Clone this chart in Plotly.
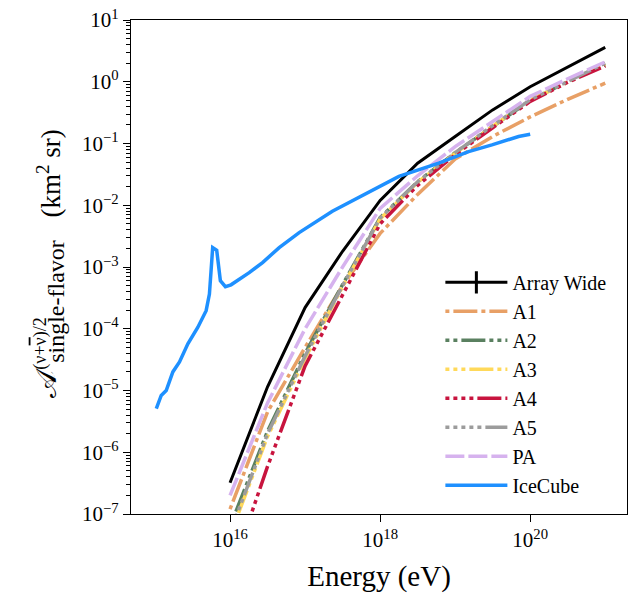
import plotly.graph_objects as go

# Energy grid shared by the array/station effective-area curves (eV)
energy_ev = [1e16, 3.16e16, 1e17, 3.16e17, 1e18, 3.16e18, 1e19, 3.16e19, 1e20, 3.16e20, 1e21]

# Single-flavour effective areas (km^2 sr)
array_wide = [3.2e-7, 1.15e-5, 2.2e-4, 1.8e-3, 1.2e-2, 4.8e-2, 0.13, 0.35, 0.83, 1.74, 3.6]
a1 = [1.2e-7, 4.5e-6, 5.0e-5, 5.0e-4, 3.5e-3, 1.5e-2, 5.6e-2, 0.13, 0.27, 0.52, 0.95]
a2 = [6.3e-8, 2.2e-6, 4.0e-5, 5.2e-4, 6.3e-3, 2.4e-2, 7.1e-2, 0.19, 0.50, 1.0, 1.9]
a3 = [4.5e-8, 1.8e-6, 3.3e-5, 4.8e-4, 6.0e-3, 2.35e-2, 6.9e-2, 0.19, 0.50, 1.0, 1.95]
a4 = [1.0e-8, 5.9e-7, 2.5e-5, 3.5e-4, 5.0e-3, 2.1e-2, 6.6e-2, 0.18, 0.48, 0.98, 1.8]
a5 = [5.0e-8, 2.0e-6, 3.6e-5, 5.0e-4, 6.2e-3, 2.4e-2, 7.1e-2, 0.195, 0.51, 1.02, 2.0]
pa = [2.0e-7, 6.3e-6, 1.0e-4, 1.0e-3, 8.9e-3, 3.0e-2, 8.9e-2, 0.23, 0.58, 1.12, 2.1]

# IceCube effective area, including the Glashow resonance bump
icecube_energy = [1.04e15, 1.21e15, 1.41e15, 1.73e15, 2.12e15, 2.74e15, 3.71e15, 4.80e15,
                  5.31e15, 5.60e15, 5.87e15, 6.64e15, 7.43e15, 8.67e15, 1.03e16, 1.80e16,
                  2.71e16, 4.52e16, 8.34e16, 2.31e17, 9.64e17, 1.78e18, 6.04e18, 1.51e19,
                  3.09e19, 7.0e19, 1.0e20]
icecube_area = [5.1e-6, 8.3e-6, 1.0e-5, 2.0e-5, 2.9e-5, 5.7e-5, 1.05e-4, 1.96e-4,
                3.65e-4, 8.7e-4, 2.06e-3, 1.87e-3, 6.0e-4, 4.8e-4, 5.15e-4, 8.1e-4,
                1.18e-3, 2.06e-3, 3.6e-3, 8.0e-3, 2.03e-2, 2.94e-2, 4.8e-2, 7.4e-2,
                9.5e-2, 0.13, 0.141]

x_tick_vals = [1e16, 1e18, 1e20]
x_tick_text = ["10<sup>16</sup>", "10<sup>18</sup>", "10<sup>20</sup>"]
y_tick_vals = [1e-7, 1e-6, 1e-5, 1e-4, 1e-3, 1e-2, 1e-1, 1e0, 1e1]
y_tick_text = ["10<sup>\u22127</sup>", "10<sup>\u22126</sup>", "10<sup>\u22125</sup>",
               "10<sup>\u22124</sup>", "10<sup>\u22123</sup>", "10<sup>\u22122</sup>",
               "10<sup>\u22121</sup>", "10<sup>0</sup>", "10<sup>1</sup>"]

FONT = "Liberation Serif"


def dots_then_dash(n_dots, dot=4, gap=4, dash=24):
    parts = []
    for _ in range(n_dots):
        parts += [dot, gap]
    parts += [dash, gap]
    return ",".join(f"{p}px" for p in parts)


stations = [
    ("A1", a1, "#E8A066", dots_then_dash(1)),
    ("A2", a2, "#5A8060", dots_then_dash(2)),
    ("A3", a3, "#FFD95A", dots_then_dash(3)),
    ("A4", a4, "#C8143E", dots_then_dash(4)),
    ("A5", a5, "#9C9C9C", dots_then_dash(5)),
    ("PA", pa, "#D6B2EE", "19px,4px"),
]

fig = go.Figure()

fig.add_trace(go.Scatter(
    x=energy_ev, y=array_wide, mode="lines", name="Array Wide",
    line=dict(color="black", width=3), showlegend=False,
))
# legend entry drawn with the error-bar style marker
fig.add_trace(go.Scatter(
    x=[None], y=[None], mode="lines+markers", name="Array Wide",
    line=dict(color="black", width=3),
    marker=dict(symbol="line-ns", size=16, line=dict(color="black", width=3)),
    legendrank=1,
))
for i, (name, vals, color, dash) in enumerate(stations):
    fig.add_trace(go.Scatter(
        x=energy_ev, y=vals, mode="lines", name=name,
        line=dict(color=color, width=3.5, dash=dash),
        legendrank=2 + i,
    ))
fig.add_trace(go.Scatter(
    x=icecube_energy, y=icecube_area, mode="lines", name="IceCube",
    line=dict(color="#1E90FF", width=3.5), legendrank=20,
))

axis_common = dict(
    type="log", showline=True, mirror=True, linecolor="black", linewidth=1.3,
    ticks="outside", ticklen=7, tickwidth=1.3, tickcolor="black",
    showgrid=False, zeroline=False,
    tickfont=dict(family=FONT, size=21, color="black"),
)

fig.update_xaxes(
    **axis_common, range=[14.68, 21.29],
    tickmode="array", tickvals=x_tick_vals, ticktext=x_tick_text,
    title=dict(text="Energy (eV)", font=dict(family=FONT, size=29, color="black"), standoff=14),
)
fig.update_yaxes(
    **axis_common, range=[-7, 1],
    tickmode="array", tickvals=y_tick_vals, ticktext=y_tick_text,
    minor=dict(ticks="outside", ticklen=3.5, tickwidth=1, tickcolor="black",
               dtick="D1", showgrid=False),
)

# y-axis label built from stacked pieces (superscript above subscript)
L, R, T, B = 131, 628, 18, 514.3


def px_to_paper(px, py):
    return (px - L) / (R - L), (B - py) / (B - T)


label_parts = [
    ("(km<sup>2</sup> sr)", 49, 172, 27),
    ("\U0001D49C", 46, 383, 29),
    ("(\u03BD+<span style='text-decoration:overline'>\u03BD</span>)/2", 40, 343, 18),
    ("single-flavor", 56, 301, 24),
]
for text, px, py, size in label_parts:
    ax, ay = px_to_paper(px, py)
    fig.add_annotation(
        text=text, x=ax, y=ay, xref="paper", yref="paper", showarrow=False,
        textangle=-90, xanchor="center", yanchor="middle",
        font=dict(family=FONT, size=size, color="black"),
    )

fig.update_layout(
    width=634, height=597,
    margin=dict(l=131, r=6, t=18, b=83),
    paper_bgcolor="white", plot_bgcolor="white",
    showlegend=True,
    legend=dict(
        x=(441 - L) / (R - L), y=(B - 262) / (B - T), xanchor="left", yanchor="top",
        bgcolor="rgba(0,0,0,0)", borderwidth=0,
        font=dict(family=FONT, size=20, color="black"),
        tracegroupgap=0, itemwidth=62,
    ),
)

fig.write_html("out.html")
